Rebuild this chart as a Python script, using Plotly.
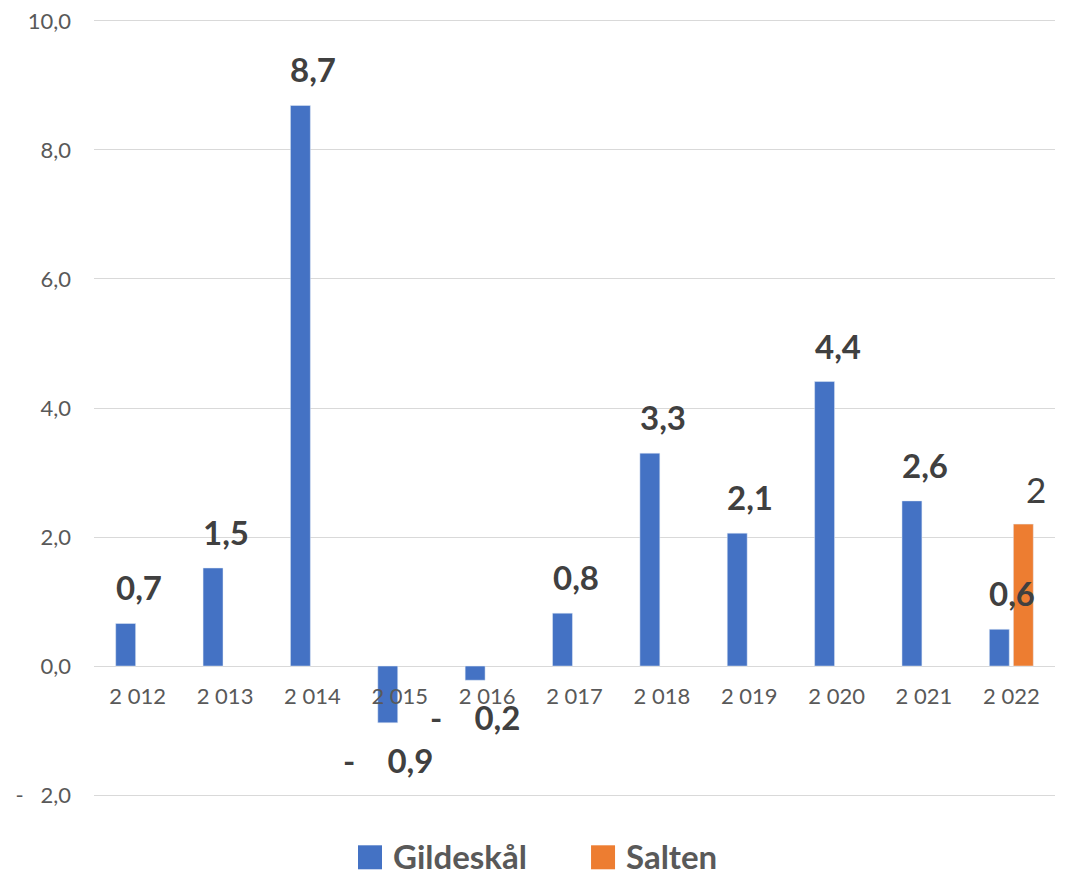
import plotly.graph_objects as go

years = ["2 012", "2 013", "2 014", "2 015", "2 016", "2 017",
         "2 018", "2 019", "2 020", "2 021", "2 022"]
gildeskal = [0.66, 1.52, 8.69, -0.88, -0.22, 0.82, 3.30, 2.06, 4.41, 2.56, 0.57]
salten = [None, None, None, None, None, None, None, None, None, None, 2.2]

y_ticks = [-2, 0, 2, 4, 6, 8, 10]
y_ticktext = ["-\u00a0\u00a0 2,0", "0,0", "2,0", "4,0", "6,0", "8,0", "10,0"]

BLUE = "#4472C4"
ORANGE = "#ED7D31"
LABEL = "#404040"
AXIS_TXT = "#595959"
GRID = "#D9D9D9"
FONT = "Lato"
Y_RANGE = [-2.03, 10.03]  # small pad so the edge gridlines get drawn


def fmt(v, decimals=1):
    s = f"{abs(v):.{decimals}f}".replace(".", ",")
    if v < 0:
        return "-\u00a0\u00a0\u00a0\u00a0" + s
    return s


fig = go.Figure()

fig.add_trace(go.Bar(
    x=years, y=gildeskal, name="Gildeskål",
    marker=dict(color=BLUE), showlegend=False,
))
fig.add_trace(go.Bar(
    x=years, y=salten, name="Salten",
    marker=dict(color=ORANGE), showlegend=False,
))

# data labels
annotations = []
for yr, v in zip(years, gildeskal):
    if v >= 0:
        annotations.append(dict(
            x=yr, y=v, text=fmt(v), showarrow=False,
            xanchor="center", yanchor="bottom", xshift=1, yshift=14,
            font=dict(family=FONT, size=33, color=LABEL, weight="bold"),
        ))
    else:
        annotations.append(dict(
            x=yr, y=v, text=fmt(v), showarrow=False,
            xanchor="center", yanchor="top", xshift=-12, yshift=-15,
            font=dict(family=FONT, size=33, color=LABEL, weight="bold"),
        ))
for yr, v in zip(years, salten):
    if v is None:
        continue
    annotations.append(dict(
        x=yr, y=v, text=fmt(v, 0), showarrow=False,
        xanchor="center", yanchor="bottom", xshift=25, yshift=12,
        font=dict(family=FONT, size=35, color=LABEL),
    ))

# custom legend with large square swatches
legend_items = [("Gildeskål", BLUE, 0.2872), ("Salten", ORANGE, 0.5297)]
shapes = []
for name, color, xa in legend_items:
    shapes.append(dict(
        type="rect", xref="paper", yref="paper",
        xsizemode="pixel", ysizemode="pixel",
        xanchor=xa, yanchor=-0.0775,
        x0=-12, x1=12, y0=-12, y1=12,
        fillcolor=color, line=dict(width=0),
    ))
    annotations.append(dict(
        x=xa, y=-0.0775, xref="paper", yref="paper",
        text=name, showarrow=False, xanchor="left", yanchor="middle",
        xshift=21, yshift=1,
        font=dict(family=FONT, size=33, color=AXIS_TXT, weight="bold"),
    ))

# page body has an 8px margin, so the figure is a bit smaller
fig.update_layout(
    width=1058, height=868,
    margin=dict(l=86, r=11, t=11, b=79, autoexpand=False),
    barmode="group", bargap=0.45, bargroupgap=0.17,
    plot_bgcolor="white", paper_bgcolor="white",
    font=dict(family=FONT, size=22, color=AXIS_TXT),
    annotations=annotations, shapes=shapes,
    showlegend=False,
)
fig.update_xaxes(
    anchor="free", position=(0 - Y_RANGE[0]) / (Y_RANGE[1] - Y_RANGE[0]),
    automargin=False,
    showgrid=False, showline=False, ticks="",
    ticklabelstandoff=15,
    tickfont=dict(family=FONT, size=22, color=AXIS_TXT),
)
fig.update_yaxes(
    range=Y_RANGE, tickvals=y_ticks, ticktext=y_ticktext, automargin=False,
    ticklabeloverflow="allow",
    showgrid=True, gridcolor=GRID, gridwidth=1.3,
    zeroline=True, zerolinecolor=GRID, zerolinewidth=1.3,
    showline=False, ticks="", ticklabelstandoff=22,
    tickfont=dict(family=FONT, size=22, color=AXIS_TXT),
)

fig.write_html("out.html")
